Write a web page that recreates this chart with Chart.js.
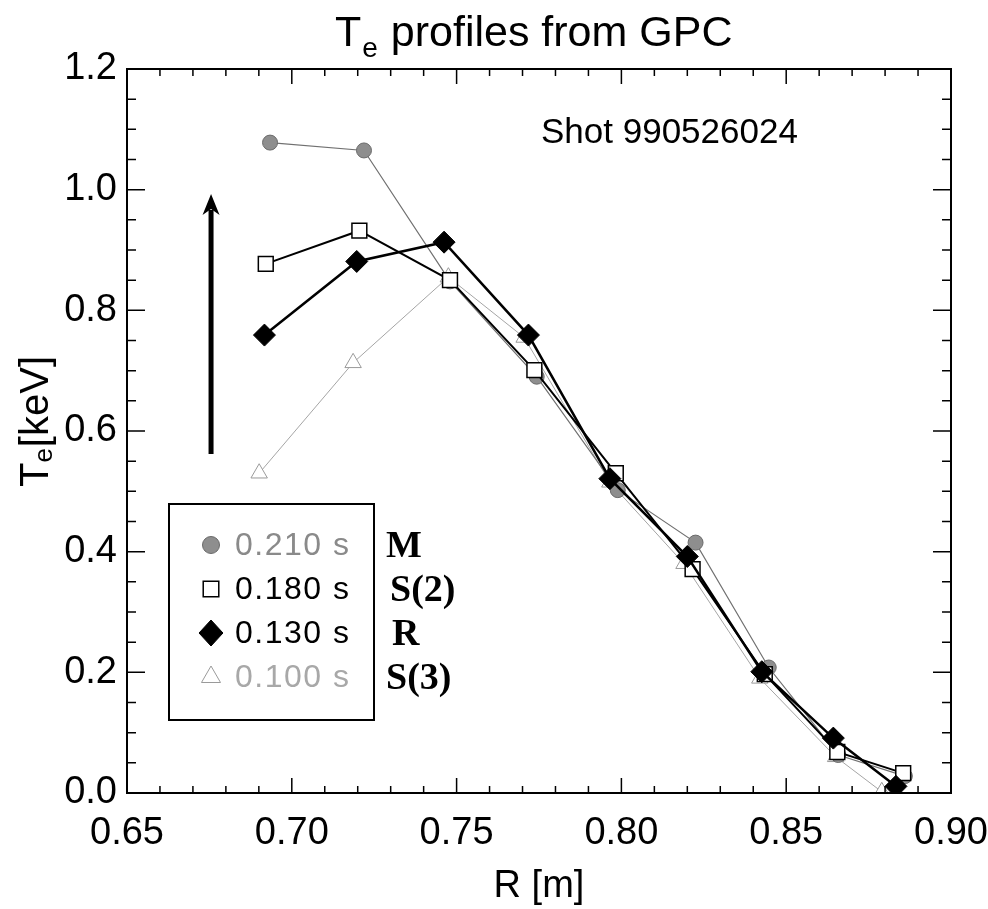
<!DOCTYPE html>
<html><head><meta charset="utf-8">
<script src="https://cdn.jsdelivr.net/npm/chart.js@4"></script>
<style>html,body{margin:0;padding:0;background:#fff;}#wrap{width:988px;height:909px;}</style>
</head><body><div id="wrap"><canvas id="c" width="988" height="909"></canvas></div>
<script>
// ---- data ----
const rM  = [0.6934, 0.7219, 0.7480, 0.7743, 0.7989, 0.8225, 0.8447, 0.8658, 0.8860];
const teM = [1.078, 1.065, 0.848, 0.690, 0.502, 0.415, 0.208, 0.063, 0.028];
const rS2  = [0.6921, 0.7205, 0.7480, 0.7736, 0.7983, 0.8216, 0.8435, 0.8655, 0.8855];
const teS2 = [0.877, 0.932, 0.850, 0.701, 0.530, 0.371, 0.197, 0.068, 0.033];
const rR  = [0.6917, 0.7197, 0.7462, 0.7718, 0.7965, 0.8200, 0.8426, 0.8643, 0.8833];
const teR = [0.759, 0.881, 0.913, 0.759, 0.521, 0.392, 0.201, 0.091, 0.011];
const rS3  = [0.6901, 0.7186, 0.7475, 0.7705, 0.7965, 0.8190, 0.8420, 0.8650, 0.8790];
const teS3 = [0.530, 0.713, 0.855, 0.755, 0.515, 0.380, 0.190, 0.060, 0.002];

const xTicks = [0.65, 0.70, 0.75, 0.80, 0.85, 0.90];
const yTicks = [0.0, 0.2, 0.4, 0.6, 0.8, 1.0, 1.2];
const xMinor = 0.01, yMinor = 0.05;
const legendTimes = ['0.210 s', '0.180 s', '0.130 s', '0.100 s'];
const phaseNames = ['M', 'S(2)', 'R', 'S(3)'];
const shotText = 'Shot 990526024';
const arrowR = 0.6755, arrowFrom = 0.562, arrowTo = 0.993;

const FONT = '"Liberation Sans", Arial, sans-serif';
const pts = (xs, ys) => xs.map((x, i) => ({x: x, y: ys[i]}));

const styles = [
  {pointStyle: 'circle', radius: 7.5, fill: '#8e8e8e', stroke: '#6a6a6a', bw: 1, text: '#8a8a8a'},
  {pointStyle: 'rect', radius: 10.5, fill: '#ffffff', stroke: '#000000', bw: 1.5, text: '#000000'},
  {pointStyle: 'rectRot', radius: 11, fill: '#000000', stroke: '#000000', bw: 1, text: '#000000'},
  {pointStyle: 'triangle', radius: 9.5, fill: '#ffffff', stroke: '#9a9a9a', bw: 1, text: '#a8a8a8'}
];

function drawMarker(ctx, st, x, y, r) {
  ctx.save();
  ctx.fillStyle = st.fill; ctx.strokeStyle = st.stroke; ctx.lineWidth = st.bw;
  ctx.beginPath();
  if (st.pointStyle === 'circle') { ctx.arc(x, y, r, 0, Math.PI * 2); }
  else if (st.pointStyle === 'rect') { const s = r * Math.SQRT1_2; ctx.rect(x - s, y - s, 2 * s, 2 * s); }
  else if (st.pointStyle === 'rectRot') { ctx.moveTo(x, y - r); ctx.lineTo(x + r * 0.92, y); ctx.lineTo(x, y + r); ctx.lineTo(x - r * 0.92, y); ctx.closePath(); }
  else { ctx.moveTo(x, y - r); ctx.lineTo(x + r * 0.866, y + r * 0.5); ctx.lineTo(x - r * 0.866, y + r * 0.5); ctx.closePath(); }
  ctx.fill(); ctx.stroke();
  ctx.restore();
}

const decor = {
  id: 'decor',
  afterDatasetsDraw(chart) {
    const ctx = chart.ctx, a = chart.chartArea, xs = chart.scales.x, ys = chart.scales.y;
    ctx.save();
    // frame
    ctx.strokeStyle = '#000'; ctx.lineWidth = 2;
    ctx.strokeRect(a.left, a.top, a.right - a.left, a.bottom - a.top);
    // ticks on all four sides, pointing inward
    ctx.lineWidth = 1.5;
    ctx.beginPath();
    const nx = Math.round((xs.max - xs.min) / xMinor);
    for (let i = 0; i <= nx; i++) {
      const v = xs.min + i * xMinor, px = xs.getPixelForValue(v);
      const len = (i % 5 === 0) ? 15 : 7;
      ctx.moveTo(px, a.bottom); ctx.lineTo(px, a.bottom - len);
      ctx.moveTo(px, a.top); ctx.lineTo(px, a.top + len);
    }
    const ny = Math.round((ys.max - ys.min) / yMinor);
    for (let i = 0; i <= ny; i++) {
      const v = ys.min + i * yMinor, py = ys.getPixelForValue(v);
      const len = (i % 4 === 0) ? 18 : 9;
      ctx.moveTo(a.left, py); ctx.lineTo(a.left + len, py);
      ctx.moveTo(a.right, py); ctx.lineTo(a.right - len, py);
    }
    ctx.stroke();
    // arrow
    const ax = xs.getPixelForValue(arrowR), ay0 = ys.getPixelForValue(arrowFrom), ay1 = ys.getPixelForValue(arrowTo);
    ctx.fillStyle = '#000'; ctx.strokeStyle = '#000'; ctx.lineWidth = 5;
    ctx.beginPath(); ctx.moveTo(ax, ay0); ctx.lineTo(ax, ay1 + 16); ctx.stroke();
    ctx.beginPath(); ctx.moveTo(ax, ay1); ctx.lineTo(ax + 8.5, ay1 + 21); ctx.lineTo(ax, ay1 + 15); ctx.lineTo(ax - 8.5, ay1 + 21); ctx.closePath(); ctx.fill();
    // shot text
    ctx.fillStyle = '#000'; ctx.font = '35px ' + FONT; ctx.textAlign = 'left'; ctx.textBaseline = 'alphabetic';
    ctx.fillText(shotText, 541, 143);
    // legend box
    ctx.lineWidth = 2; ctx.strokeStyle = '#000';
    ctx.strokeRect(169, 504, 205, 216);
    const rowY = [545, 589, 633, 677];
    for (let i = 0; i < 4; i++) {
      const st = styles[i];
      drawMarker(ctx, st, 211, rowY[i], i === 2 ? 13 : (i === 1 ? 11 : (i === 3 ? 11 : 8.5)));
      ctx.fillStyle = st.text; ctx.font = '32px ' + FONT; ctx.textBaseline = 'middle'; ctx.textAlign = 'left';
      if ('letterSpacing' in ctx) ctx.letterSpacing = '1.5px';
      ctx.fillText(legendTimes[i], 235, rowY[i] + 1);
      if ('letterSpacing' in ctx) ctx.letterSpacing = '0px';
      ctx.fillStyle = '#000'; ctx.font = 'bold 38px "Liberation Serif", "Times New Roman", serif';
      ctx.fillText(phaseNames[i], i === 1 ? 390 : (i === 2 ? 392 : 386), rowY[i] + 2);
    }
    // title with subscript
    ctx.fillStyle = '#000'; ctx.textBaseline = 'alphabetic'; ctx.textAlign = 'left';
    const tMain = '43px ' + FONT, tSub = '28px ' + FONT;
    ctx.font = tMain; const wT = ctx.measureText('T').width; const wRest = ctx.measureText(' profiles from GPC').width;
    ctx.font = tSub; const wE = ctx.measureText('e').width;
    let tx = 335;
    ctx.font = tMain; ctx.fillText('T', tx, 46);
    ctx.font = tSub; ctx.fillText('e', tx + wT + 1, 57);
    ctx.font = tMain; ctx.fillText(' profiles from GPC', tx + wT + wE + 2, 46);
    // y title with subscript (rotated)
    ctx.save();
    ctx.translate(48, 422);
    ctx.rotate(-Math.PI / 2);
    const yMain = '40px ' + FONT, ySub = '26px ' + FONT;
    ctx.font = yMain; const w1 = ctx.measureText('T').width, w3 = ctx.measureText('[keV]').width;
    ctx.font = ySub; const w2 = ctx.measureText('e').width;
    let sx = -(w1 + w2 + w3) / 2;
    ctx.font = yMain; ctx.fillText('T', sx, 0);
    ctx.font = ySub; ctx.fillText('e', sx + w1, 4);
    ctx.font = yMain; ctx.fillText('[keV]', sx + w1 + w2 + 1, 0);
    ctx.restore();
    ctx.restore();
  }
};

const mk = (label, xs, ys, st, lineColor, lw, order) => ({
  label: label, data: pts(xs, ys), showLine: true, borderColor: lineColor, borderWidth: lw,
  pointStyle: st.pointStyle, pointRadius: st.radius, pointBackgroundColor: st.fill,
  pointBorderColor: st.stroke, pointBorderWidth: st.bw, pointHoverRadius: st.radius, order: order, tension: 0
});

new Chart(document.getElementById('c'), {
  type: 'scatter',
  data: { datasets: [
    mk(legendTimes[3], rS3, teS3, styles[3], '#a5a5a5', 1, 4),
    mk(legendTimes[0], rM, teM, styles[0], '#707070', 1.2, 3),
    mk(legendTimes[1], rS2, teS2, styles[1], '#000000', 2, 2),
    mk(legendTimes[2], rR, teR, styles[2], '#000000', 2.5, 1)
  ]},
  options: {
    responsive: false, animation: false, devicePixelRatio: 1,
    layout: { padding: { left: 0, top: 69, right: 37, bottom: 0 } },
    plugins: { legend: { display: false }, tooltip: { enabled: false }, title: { display: false } },
    scales: {
      x: {
        type: 'linear', min: 0.65, max: 0.90,
        afterBuildTicks: s => { s.ticks = xTicks.map(v => ({value: v})); },
        afterFit: s => { s.height = 116; s.paddingLeft = 0; s.paddingRight = 0; },
        grid: { display: false, drawTicks: false }, border: { display: false },
        ticks: { color: '#000', font: { family: FONT, size: 38 }, padding: 18, maxRotation: 0, autoSkip: false,
                 callback: v => v.toFixed(2) },
        title: { display: true, text: 'R [m]', color: '#000', font: { family: FONT, size: 38 }, padding: { top: 2, bottom: 0 } }
      },
      y: {
        type: 'linear', min: 0, max: 1.2,
        afterBuildTicks: s => { s.ticks = yTicks.map(v => ({value: v})); },
        afterFit: s => { s.width = 127; s.paddingTop = 0; s.paddingBottom = 0; },
        grid: { display: false, drawTicks: false }, border: { display: false },
        ticks: { color: '#000', font: { family: FONT, size: 38 }, padding: 10, autoSkip: false,
                 callback: v => v.toFixed(1) }
      }
    }
  },
  plugins: [decor]
});
</script></body></html>
